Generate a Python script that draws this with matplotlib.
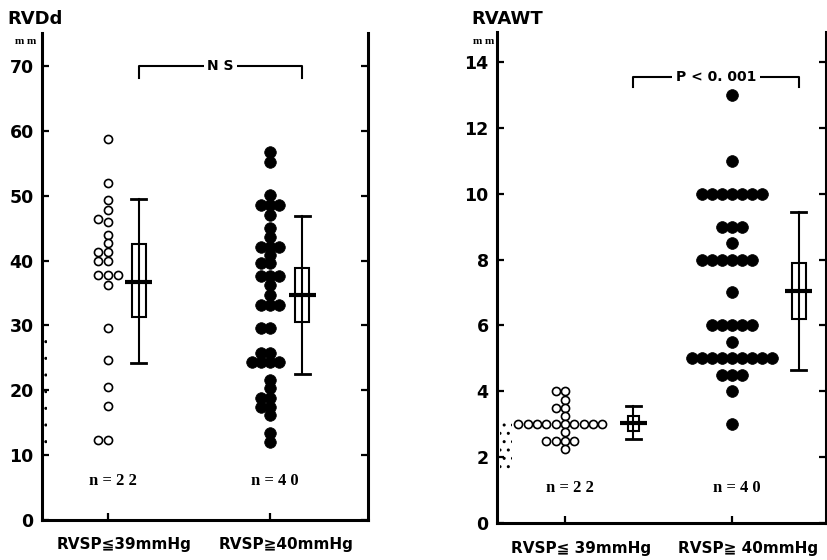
import matplotlib
matplotlib.use("Agg")
import matplotlib.pyplot as plt
from matplotlib.patches import Rectangle
import numpy as np

# ---------------- data ----------------
rvdd_low = [58.7, 52.0, 49.3, 47.8, 46.4, 45.9, 43.9, 42.7, 41.3, 41.3, 40.0, 40.0,
            37.7, 37.7, 37.7, 36.2, 29.6, 24.6, 20.5, 17.6, 12.3, 12.3]
rvdd_high = [56.7, 55.2, 50.1, 48.6, 48.6, 48.6, 47.0, 45.0, 43.6, 42.1, 42.1, 42.1,
             40.8, 39.6, 39.6, 37.6, 37.6, 37.6, 36.2, 34.7, 33.1, 33.1, 33.1,
             29.6, 29.6, 25.7, 25.7, 24.4, 24.4, 24.4, 24.4, 21.6, 20.3,
             18.8, 18.8, 17.4, 17.4, 16.2, 13.4, 12.0]
rvawt_low = [4.0, 4.0, 3.75, 3.5, 3.5, 3.25, 3.0, 3.0, 3.0, 3.0, 3.0, 3.0, 3.0, 3.0,
             3.0, 3.0, 2.75, 2.5, 2.5, 2.5, 2.5, 2.25]
rvawt_high = [13.0, 11.0, 10.0, 10.0, 10.0, 10.0, 10.0, 10.0, 10.0, 9.0, 9.0, 9.0, 8.5,
              8.0, 8.0, 8.0, 8.0, 8.0, 8.0, 7.0, 6.0, 6.0, 6.0, 6.0, 6.0, 5.5,
              5.0, 5.0, 5.0, 5.0, 5.0, 5.0, 5.0, 5.0, 5.0, 4.5, 4.5, 4.5, 4.0, 3.0]

rvdd_mean = [36.7, 34.7]
rvdd_box_lo = [31.3, 30.5]
rvdd_box_hi = [42.5, 38.8]
rvdd_wh_lo = [24.2, 22.5]
rvdd_wh_hi = [49.5, 46.8]

rvawt_mean = [3.05, 7.05]
rvawt_box_lo = [2.8, 6.2]
rvawt_box_hi = [3.25, 7.9]
rvawt_wh_lo = [2.55, 4.65]
rvawt_wh_hi = [3.55, 9.45]

rvdd_ticks = [0, 10, 20, 30, 40, 50, 60, 70]
rvawt_ticks = [0, 2, 4, 6, 8, 10, 12, 14]
cats_left = ["RVSP≦39mmHg", "RVSP≧40mmHg"]
cats_right = ["RVSP≦ 39mmHg", "RVSP≧ 40mmHg"]
n_labels = ["n = 2 2", "n = 4 0"]
titles = ["RVDd", "RVAWT"]
sig_labels = ["N S", "P < 0. 001"]

# ---------------- layout ----------------
W, H = 828, 560
fig = plt.figure(figsize=(W / 100, H / 100), dpi=100)

def add_axes_px(l, t, r, b):
    return fig.add_axes([l / W, (H - b) / H, (r - l) / W, (b - t) / H])

axL = add_axes_px(42, 33, 368, 520)
axR = add_axes_px(497, 32, 826, 523)
axL.set_ylim(0, 75.09)
axR.set_ylim(0, 14.91)
axL.set_xlim(0.593, 2.605)
axR.set_xlim(0.593, 2.563)

def ppu(ax):
    bb = ax.get_position()
    x0, x1 = ax.get_xlim()
    y0, y1 = ax.get_ylim()
    return bb.width * W / (x1 - x0), bb.height * H / (y1 - y0)

def swarm(values, spacing, ppy, thr=7.5):
    values = np.asarray(values, float)
    order = np.argsort(values, kind="stable")
    placed = []
    res = np.zeros(len(values))
    cands = [0]
    for k in range(1, 12):
        cands += [-k, k]
    for i in order:
        v = values[i]
        for c in cands:
            if all(np.hypot((c - kk) * spacing, (v - vv) * ppy) >= thr for kk, vv in placed):
                break
        placed.append((c, v))
        res[i] = c
    return res

def draw_group(ax, pos, vals, filled, spacing, size, lw=1.2):
    ppx, ppy = ppu(ax)
    offs = swarm(vals, spacing, ppy)
    xs = pos + offs * spacing / ppx
    if filled:
        ax.scatter(xs, vals, s=size, c="black", edgecolors="black", linewidths=0.5,
                   zorder=3, clip_on=False)
    else:
        ax.scatter(xs, vals, s=size, facecolors="white", edgecolors="black",
                   linewidths=lw, zorder=3, clip_on=False)

def draw_stat(ax, bx, mean, blo, bhi, wlo, whi, box_px=14, cap_px=15, mean_px=27):
    ppx, _ = ppu(ax)
    bw = box_px / ppx
    cw = cap_px / ppx
    mw = mean_px / ppx
    ax.plot([bx, bx], [wlo, whi], color="black", lw=1.5, zorder=4)
    ax.plot([bx - cw / 2, bx + cw / 2], [wlo, wlo], color="black", lw=2, zorder=4)
    ax.plot([bx - cw / 2, bx + cw / 2], [whi, whi], color="black", lw=2, zorder=4)
    ax.add_patch(Rectangle((bx - bw / 2, blo), bw, bhi - blo, facecolor="none",
                           edgecolor="black", lw=1.5, zorder=4))
    ax.plot([bx - mw / 2, bx + mw / 2], [mean, mean], color="black", lw=3,
            solid_capstyle="butt", zorder=5)

def style_axes(ax, yticks):
    for s in ["left", "right", "bottom"]:
        ax.spines[s].set_linewidth(2.2)
    ax.spines["top"].set_visible(False)
    ax.set_yticks(yticks)
    ax.set_yticklabels([str(t) for t in yticks], fontsize=12.5, fontweight="bold",
                       family="DejaVu Sans")
    ax.tick_params(axis="y", direction="in", length=5, width=1.6, pad=6,
                   right=True, labelright=False)
    ax.set_xticks([1, 2])
    ax.set_xticklabels([])
    ax.tick_params(axis="x", direction="in", length=5, width=1.6)

def bracket(ax, x1, x2, ytop, yend, label, fs):
    ax.plot([x1, x1, x2, x2], [yend, ytop, ytop, yend], color="black", lw=1.5,
            zorder=4, clip_on=False)
    ax.text((x1 + x2) / 2, ytop, label, ha="center", va="center", fontsize=fs,
            fontweight="bold", family="DejaVu Sans",
            bbox=dict(boxstyle="square,pad=0.25", fc="white", ec="none"), zorder=6)

style_axes(axL, rvdd_ticks)
style_axes(axR, rvawt_ticks)

# stippled normal-range areas
ppxL, ppyL = ppu(axL)
axL.add_patch(Rectangle((0.593, 10), 5 / ppxL, 19, facecolor="none", edgecolor="black",
                        lw=0, hatch="..", zorder=1))
ppxR, ppyR = ppu(axR)
axR.add_patch(Rectangle((0.593 + 3 / ppxR, 1.6), 12 / ppxR, 1.5, facecolor="none",
                        edgecolor="black", lw=0, hatch="..", zorder=1))

# points
draw_group(axL, 1, rvdd_low, False, 9.7, 34)
draw_group(axL, 2, rvdd_high, True, 9.2, 70)
draw_group(axR, 1, rvawt_low, False, 9.3, 34)
draw_group(axR, 2, rvawt_high, True, 10.0, 72)

# mean / SD boxes
boxposL = [1.19, 2.20]
boxposR = [1.41, 2.40]
for i in range(2):
    draw_stat(axL, boxposL[i], rvdd_mean[i], rvdd_box_lo[i], rvdd_box_hi[i],
              rvdd_wh_lo[i], rvdd_wh_hi[i])
    draw_stat(axR, boxposR[i], rvawt_mean[i], rvawt_box_lo[i], rvawt_box_hi[i],
              rvawt_wh_lo[i], rvawt_wh_hi[i], box_px=(11 if i == 0 else 14))

# significance brackets
bracket(axL, boxposL[0], boxposL[1], 70, 68.1, sig_labels[0], 10)
bracket(axR, boxposR[0], boxposR[1], 13.54, 13.25, sig_labels[1], 10)

# n labels and category labels
for ax, cats, ny in [(axL, cats_left, 6.0), (axR, cats_right, 1.05)]:
    ppx, ppy = ppu(ax)
    for i in range(2):
        ax.text(i + 1 + 5 / ppx, ny, n_labels[i], ha="center", va="center",
                fontsize=12, fontweight="bold", family="Liberation Serif")
        ax.text(i + 1 + 16 / ppx, -25 / ppy, cats[i], ha="center", va="center",
                fontsize=11, fontweight="bold", family=["DejaVu Sans", "Noto Sans CJK JP"],
                clip_on=False)

# titles and units
fig.text(7 / W, 1 - 19 / H, titles[0], ha="left", va="center", fontsize=13,
         fontweight="bold", family="DejaVu Sans")
fig.text(471 / W, 1 - 19 / H, titles[1], ha="left", va="center", fontsize=13,
         fontweight="bold", family="DejaVu Sans")
fig.text(26 / W, 1 - 42 / H, "m m", ha="center", va="center", fontsize=8,
         fontweight="bold", family="Liberation Serif")
fig.text(484 / W, 1 - 42 / H, "m m", ha="center", va="center", fontsize=8,
         fontweight="bold", family="Liberation Serif")

fig.savefig("out.png", dpi=100, facecolor="white")
